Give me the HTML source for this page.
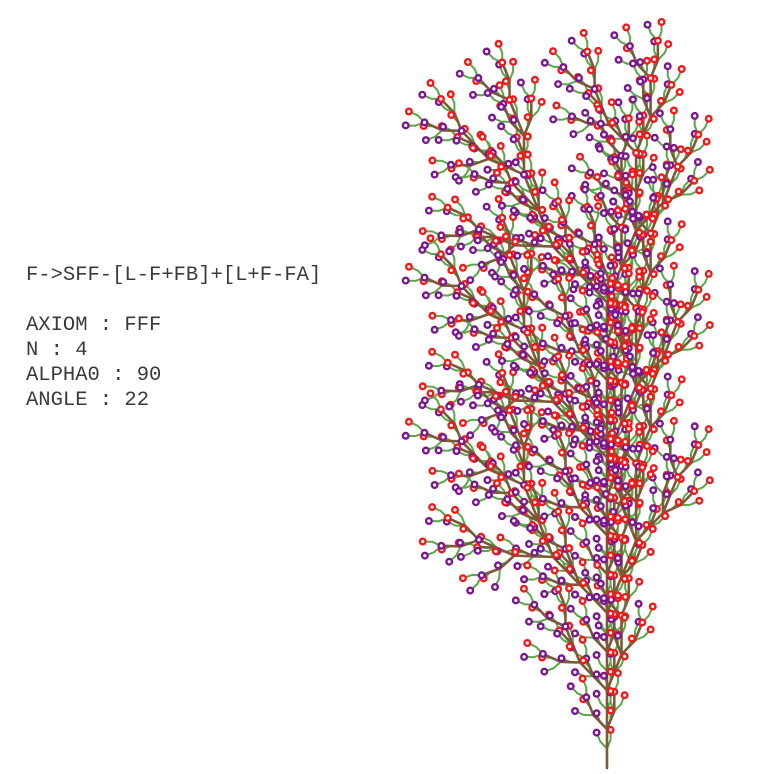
<!DOCTYPE html>
<html><head><meta charset="utf-8">
<style>
html,body{margin:0;padding:0;background:#fff;width:784px;height:774px;overflow:hidden}
#info{position:absolute;left:26px;top:263px;font-family:"Liberation Mono",monospace;font-size:20.5px;line-height:25px;color:#3a3a3a;white-space:pre}
svg{position:absolute;left:0;top:0}
</style></head><body>
<div id="info"><div>F-&gt;SFF-[L-F+FB]+[L+F-FA]</div><div>&nbsp;</div><div>AXIOM : FFF</div><div>N : 4</div><div>ALPHA0 : 90</div><div>ANGLE : 22</div></div>
<svg id="tree" width="784" height="774"></svg>
<script>
const axiom = "FFF";
const ruleF = "SFF-[L-F+FB]+[L+F-FA]";
const iterations = 4;
const alpha0 = 90;
const turnAngle = 22;

let s = axiom;
for (let i = 0; i < iterations; i++) {
  let o = "";
  for (const c of s) o += (c === "F") ? ruleF : c;
  s = o;
}
const segs = [], flowers = [];
let x = 0, y = 0, h = alpha0, col = "b";
const stack = [];
for (const c of s) {
  if (c === "F") {
    const r = h * Math.PI / 180;
    const nx = x + Math.cos(r), ny = y + Math.sin(r);
    segs.push([x, y, nx, ny, col]); x = nx; y = ny;
  } else if (c === "S") col = "b";
  else if (c === "L") col = "g";
  else if (c === "+") h -= turnAngle;
  else if (c === "-") h += turnAngle;
  else if (c === "[") stack.push([x, y, h, col]);
  else if (c === "]") { [x, y, h, col] = stack.pop(); }
  else if (c === "A" || c === "B") flowers.push([x, y, c]);
}
let minY = Infinity, maxY = -Infinity;
for (const sg of segs) { minY = Math.min(minY, sg[1], sg[3]); maxY = Math.max(maxY, sg[1], sg[3]); }
const baseX = 607, baseY = 768, topY = 22;
const k = (baseY - topY) / (maxY - minY);
const sx = v => baseX + v * k, sy = v => baseY - v * k;
const NS = "http://www.w3.org/2000/svg";
const svg = document.getElementById("tree");
let db = "", dg = "";
for (const sg of segs) {
  const d = "M" + sx(sg[0]).toFixed(1) + " " + sy(sg[1]).toFixed(1) + "L" + sx(sg[2]).toFixed(1) + " " + sy(sg[3]).toFixed(1);
  if (sg[4] === "b") db += d; else dg += d;
}
const pg = document.createElementNS(NS, "path");


pg.setAttribute("d", dg); pg.setAttribute("stroke", "#5aa64a"); pg.setAttribute("stroke-width", "2"); pg.setAttribute("fill", "none"); pg.setAttribute("stroke-linecap", "round"); pg.setAttribute("stroke-linejoin", "round");
svg.appendChild(pg);
const pb = document.createElementNS(NS, "path");


pb.setAttribute("d", db); pb.setAttribute("stroke", "#7b5a38"); pb.setAttribute("stroke-width", "2.6"); pb.setAttribute("fill", "none"); pb.setAttribute("stroke-linecap", "round");
svg.appendChild(pb);
const gf = document.createElementNS(NS, "g");


for (const f of flowers) {
  const c = document.createElementNS(NS, "circle");
  
  
  c.setAttribute("cx", sx(f[0]).toFixed(1)); c.setAttribute("cy", sy(f[1]).toFixed(1)); c.setAttribute("r", "2.8");
  c.setAttribute("fill", "#fff"); c.setAttribute("stroke", f[2] === "A" ? "#f41818" : "#7c1590"); c.setAttribute("stroke-width", "2.4");
  gf.appendChild(c);
}
svg.appendChild(gf);
</script>
</body></html>
